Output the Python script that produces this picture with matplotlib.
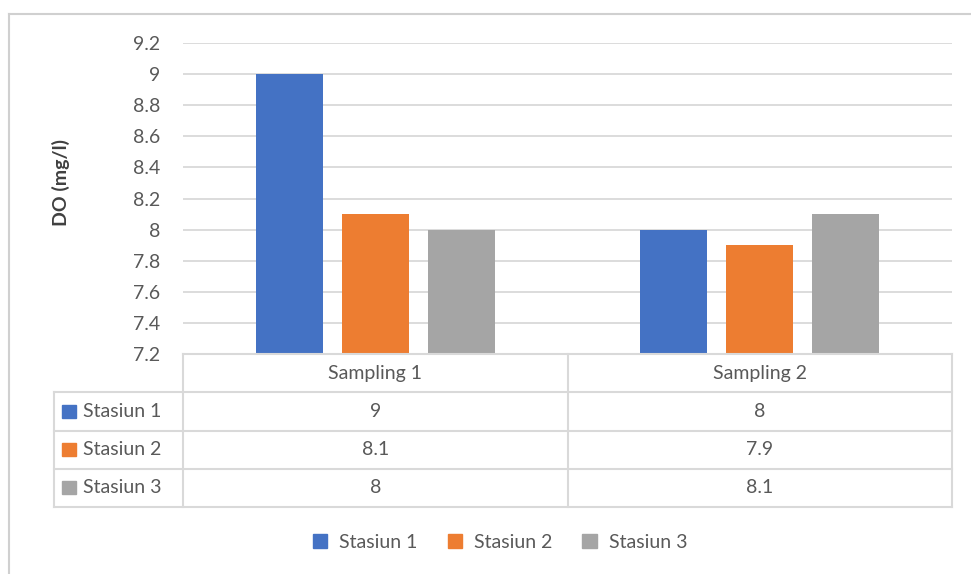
import matplotlib
matplotlib.use("Agg")
import matplotlib.pyplot as plt
from matplotlib.patches import Rectangle
from matplotlib.lines import Line2D
import numpy as np

categories = ["Sampling 1", "Sampling 2"]
series_names = ["Stasiun 1", "Stasiun 2", "Stasiun 3"]
stasiun1 = [9, 8]
stasiun2 = [8.1, 7.9]
stasiun3 = [8, 8.1]
series_values = [stasiun1, stasiun2, stasiun3]
yticks = [7.2, 7.4, 7.6, 7.8, 8, 8.2, 8.4, 8.6, 8.8, 9, 9.2]
ylabel = "DO (mg/l)"

colors = ["#4472C4", "#ED7D31", "#A5A5A5"]
grid_c = "#D9D9D9"
text_c = "#595959"
plt.rcParams['font.family'] = ['Lato', 'DejaVu Sans']

W, H = 971, 574
fig = plt.figure(figsize=(W / 100, H / 100), dpi=100)
fig.patch.set_facecolor("white")

def fx(px):
    return px / W

def fy(py):
    return 1 - py / H

# chart border
fig.add_artist(Line2D([fx(9), fx(971)], [fy(13.5), fy(13.5)], color="#D0D0D0", lw=1.5))
fig.add_artist(Line2D([fx(9), fx(9)], [fy(13.5), fy(574)], color="#D0D0D0", lw=1.5))

L, R, T, B = 183, 952, 43, 354
ax = fig.add_axes([fx(L), fy(B), fx(R) - fx(L), fy(T) - fy(B)])
x = np.arange(len(categories))
off = 0.2234
bw = 0.174
for i, vals in enumerate(series_values):
    ax.bar(x + (i - 1) * off, np.array(vals) - 7.2, bottom=7.2, width=bw,
           color=colors[i], zorder=3)
ax.set_xlim(-0.5, len(categories) - 0.5)
ax.set_ylim(7.2, 9.2)
ax.set_yticks(yticks)
ax.set_yticklabels([f"{t:g}" for t in yticks])
ax.tick_params(axis="y", length=0, pad=16.5, labelsize=14, labelcolor=text_c)
ax.tick_params(axis="x", length=0, labelbottom=False)
for lbl in ax.get_yticklabels():
    lbl.set_horizontalalignment("right")
ax.yaxis.grid(True, color=grid_c, lw=1.3, zorder=0)
for s in ["top", "right", "left", "bottom"]:
    ax.spines[s].set_visible(False)
fig.text(fx(61), fy(183), ylabel, rotation=90, ha="center", va="center",
         fontsize=14, fontweight="bold", color="#404040")

# data table
TL, TT, TB = 54, 354, 507
cat_px = (R - L) / len(categories)
tax = fig.add_axes([fx(TL), fy(TB), fx(R) - fx(TL), fy(TT) - fy(TB)])
left_units = (L - TL) / cat_px
tax.set_xlim(-0.5 - left_units, len(categories) - 0.5)
tax.set_ylim(4, 0)
tax.axis("off")
lc = "#D9D9D9"
lw = 1.5
x0 = -0.5 - left_units
x1 = len(categories) - 0.5
# horizontal lines
tax.plot([-0.5, x1], [0, 0], color=lc, lw=lw, clip_on=False)
for r in [1, 2, 3, 4]:
    tax.plot([x0, x1], [r, r], color=lc, lw=lw, clip_on=False)
# vertical lines
tax.plot([x0, x0], [1, 4], color=lc, lw=lw, clip_on=False)
for c in range(len(categories) + 1):
    xv = c - 0.5
    tax.plot([xv, xv], [0, 4], color=lc, lw=lw, clip_on=False)
for c, cat in enumerate(categories):
    tax.text(c, 0.5, cat, ha="center", va="center", fontsize=14, color=text_c)
for r, (name, vals) in enumerate(zip(series_names, series_values)):
    yrow = r + 1.5
    tax.add_patch(Rectangle((x0 + 0.022, yrow - 0.17), 0.036, 0.34,
                            color=colors[r], clip_on=False))
    tax.text(x0 + 0.075, yrow, name, ha="left", va="center", fontsize=14,
             color=text_c)
    for c, v in enumerate(vals):
        tax.text(c, yrow, f"{v:g}", ha="center", va="center", fontsize=14,
                 color=text_c)

# legend
handles = [Rectangle((0, 0), 1, 1, color=colors[i]) for i in range(3)]
fig.legend(handles, series_names, loc="center", bbox_to_anchor=(fx(500), fy(542)),
           ncol=3, frameon=False, fontsize=14, handlelength=0.75, handleheight=0.75,
           handletextpad=0.6, columnspacing=1.55, labelcolor=text_c)

fig.savefig("out.png", dpi=100, facecolor="white")
